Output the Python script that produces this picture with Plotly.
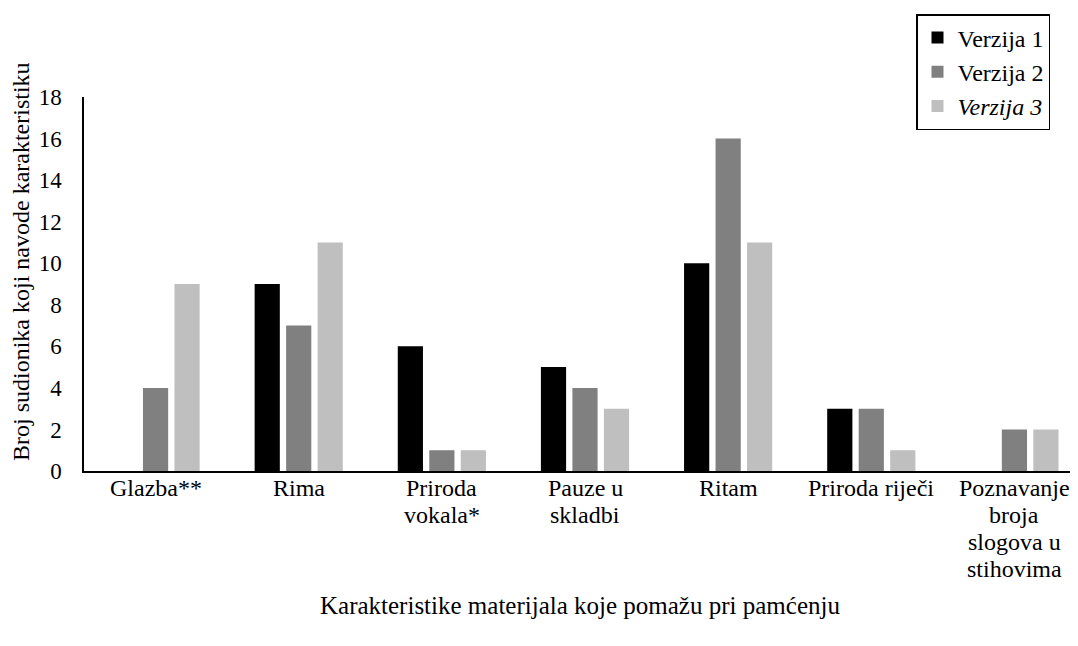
import plotly.graph_objects as go

categories = ["Glazba**", "Rima", "Priroda<br>vokala*", "Pauze u<br>skladbi", "Ritam",
              "Priroda riječi", "Poznavanje<br>broja<br>slogova u<br>stihovima"]
verzija1 = [0, 9, 6, 5, 10, 3, 0]
verzija2 = [4, 7, 1, 4, 16, 3, 2]
verzija3 = [9, 11, 1, 3, 11, 1, 2]
series_names = ["Verzija 1", "Verzija 2", "<i>Verzija 3</i>"]
colors = ["#000000", "#808080", "#bfbfbf"]
y_ticks = [0, 2, 4, 6, 8, 10, 12, 14, 16, 18]

FONT = "Liberation Serif"
W, H = 1078, 646
# page is offset by 8px body margin
L, R, T, B = 76, 0, 89, 183
AXIS_Y = H - B  # 463

fig = go.Figure()
for name, vals, c in zip(series_names, [verzija1, verzija2, verzija3], colors):
    fig.add_trace(go.Bar(x=list(range(len(categories))), y=vals, name=name,
                         marker=dict(color=c, line=dict(width=0))))

plot_w = W - L - R
plot_h = H - T - B
fig.update_layout(
    width=W, height=H,
    margin=dict(l=L, r=R, t=T, b=B, pad=0, autoexpand=False),
    paper_bgcolor="white", plot_bgcolor="white",
    font=dict(family=FONT, size=22, color="black"),
    barmode="group", bargap=0.34, bargroupgap=0.2,
    showlegend=True,
    legend=dict(xref="container", yref="container", x=908 / W, y=1 - 6 / H,
                xanchor="left", yanchor="top",
                bordercolor="black", borderwidth=1.5, bgcolor="white",
                font=dict(family=FONT, size=24, color="black"),
                tracegroupgap=0, itemwidth=30),
    xaxis=dict(range=[-0.5, 6.5], automargin=False,
               tickmode="array", tickvals=list(range(len(categories))),
               showticklabels=False,
               showline=True, linecolor="black", linewidth=1.5,
               showgrid=False, zeroline=False, ticks=""),
    yaxis=dict(range=[0, 18], tickmode="array", tickvals=y_ticks, automargin=False,
               showline=True, linecolor="black", linewidth=1.5,
               showgrid=False, zeroline=False, ticks="", ticklabelstandoff=16,
               tickfont=dict(family=FONT, size=23, color="black")),
)

# category labels, one annotation per line for tight line spacing
first_line_y = 480
line_gap = 27
for i, lab in enumerate(categories):
    for j, line in enumerate(lab.split("<br>")):
        fig.add_annotation(text=line, xref="x", yref="paper", x=i,
                           y=(AXIS_Y - (first_line_y + j * line_gap)) / plot_h,
                           showarrow=False, xanchor="center", yanchor="middle",
                           font=dict(family=FONT, size=24, color="black"))

fig.add_annotation(text="Broj sudionika koji navode karakteristiku", textangle=-90,
                   xref="paper", yref="paper", x=(13 - L) / plot_w, y=(AXIS_Y - 254) / plot_h,
                   showarrow=False, xanchor="center", yanchor="middle",
                   font=dict(family=FONT, size=24, color="black"))
fig.add_annotation(text="Karakteristike materijala koje pomažu pri pamćenju",
                   xref="paper", yref="paper", x=(572 - L) / plot_w, y=(AXIS_Y - 597) / plot_h,
                   showarrow=False, xanchor="center", yanchor="middle",
                   font=dict(family=FONT, size=25, color="black"))

fig.write_html("out.html")
